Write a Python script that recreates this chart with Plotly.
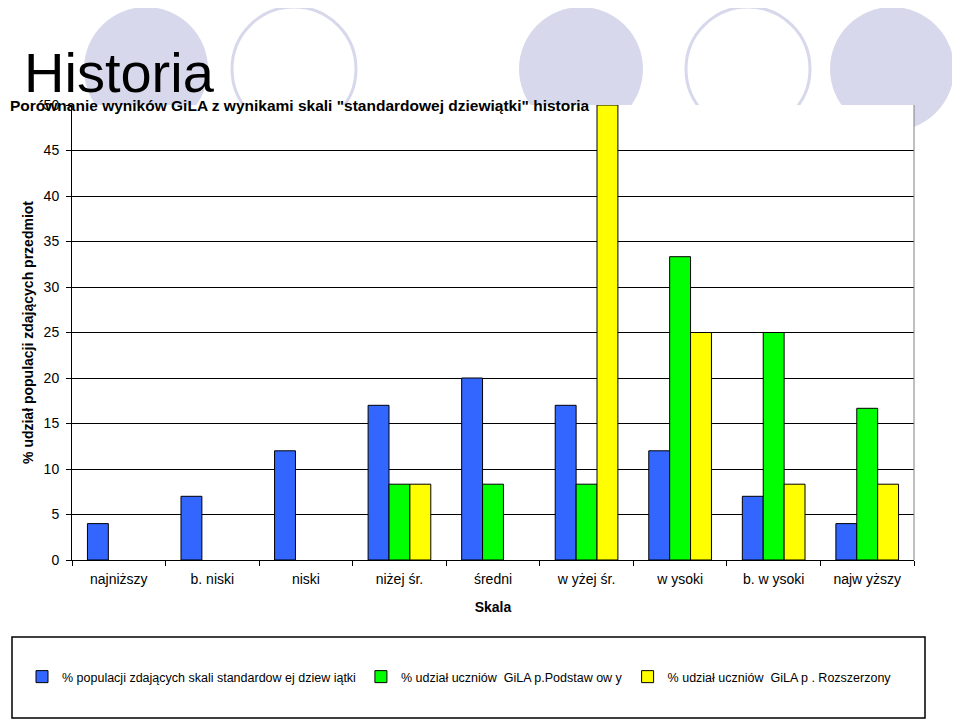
import plotly.graph_objects as go

# dane
kategorie = ["najniższy", "b. niski", "niski", "niżej śr.", "średni",
             "w yżej śr.", "w ysoki", "b. w ysoki", "najw yższy"]
standard = [4, 7, 12, 17, 20, 17, 12, 7, 4]
gila_podstawowy = [None, None, None, 8.33, 8.33, 8.33, 33.33, 25, 16.67]
gila_rozszerzony = [None, None, None, 8.33, None, 50, 25, 8.33, 8.33]

nazwy = ["% populacji zdających skali standardow ej dziew iątki",
         "% udział uczniów  GiLA p.Podstaw ow y",
         "% udział uczniów  GiLA p . Rozszerzony"]
kolory = ["#3366ff", "#00ff00", "#ffff00"]

# strona ma margines 8px, wiec wykres jest mniejszy o 8px
OFF = 8
W, H = 960 - OFF, 721 - OFF
L, R, T, B = 72 - OFF, 46, 105 - OFF, 161
PW, PH = W - L - R, H - T - B
FONT = "Liberation Sans, Arial, sans-serif"


def px(x):
    # x strony -> wspolrzedna paper
    return (x - OFF - L) / PW


def py(y):
    return (H - B - (y - OFF)) / PH


fig = go.Figure()
for nazwa, wartosci, kolor in zip(nazwy, [standard, gila_podstawowy, gila_rozszerzony], kolory):
    fig.add_trace(go.Bar(x=kategorie, y=wartosci, name=nazwa,
                         marker=dict(color=kolor, line=dict(color="black", width=1))))

# ozdobne kola w tle
ksztalty = []
for cx, pelne in [(146, True), (294, False), (581, True), (748, False), (892, True)]:
    r = 62
    ksztalty.append(dict(type="circle", xref="paper", yref="paper", layer="below",
                         x0=px(cx - r), x1=px(cx + r), y0=py(69 + r), y1=py(69 - r),
                         fillcolor="#d8d8ec" if pelne else "rgba(0,0,0,0)",
                         line=dict(color="#d8d8ec", width=0 if pelne else 3)))
# biale tlo obszaru wykresu nad kolami
ksztalty.append(dict(type="rect", xref="paper", yref="paper", layer="below",
                     x0=0, x1=1, y0=0, y1=1, fillcolor="white", line=dict(width=0)))
# prawa ramka
ksztalty.append(dict(type="line", xref="paper", yref="paper", x0=1, x1=1, y0=0, y1=1,
                     line=dict(color="#808080", width=1)))
# ramka legendy
ksztalty.append(dict(type="rect", xref="paper", yref="paper",
                     x0=px(12), x1=px(925), y0=py(718), y1=py(637),
                     line=dict(color="black", width=1.5)))

fig.update_layout(
    width=W, height=H,
    margin=dict(l=L, r=R, t=T, b=B),
    paper_bgcolor="white", plot_bgcolor="white",
    font=dict(family=FONT, size=14, color="black"),
    barmode="group", bargap=0.33, bargroupgap=0,
    shapes=ksztalty,
    showlegend=True,
    legend=dict(orientation="h", x=px(22), xanchor="left", y=py(677), yanchor="middle",
                font=dict(size=12.5), itemwidth=30, traceorder="normal",
                bgcolor="rgba(0,0,0,0)"),
    annotations=[
        dict(text="Historia", xref="paper", yref="paper", x=px(22), y=py(72),
             xanchor="left", yanchor="middle", showarrow=False,
             font=dict(size=56, family=FONT)),
        dict(text="<b>Porównanie wyników GiLA z wynikami skali \"standardowej dziewiątki\" historia</b>",
             xref="paper", yref="paper", x=px(OFF), y=py(105), xanchor="left", yanchor="middle",
             showarrow=False, font=dict(size=15.5, family=FONT)),
    ],
    hovermode=False,
)
fig.update_xaxes(showline=True, linecolor="black", linewidth=1,
                 ticks="outside", tickson="boundaries", ticklen=5, tickcolor="black",
                 ticklabelstandoff=6,
                 title=dict(text="<b>Skala</b>", font=dict(size=14), standoff=16))
fig.update_yaxes(range=[0, 50], dtick=5, showline=True, linecolor="black", linewidth=1,
                 showgrid=True, gridcolor="black", gridwidth=1, zeroline=False,
                 ticks="outside", ticklen=5, tickcolor="black", ticklabelstandoff=4,
                 title=dict(text="<b>% udział populacji zdających przedmiot</b>", font=dict(size=14),
                            standoff=6))

fig.write_html("out.html")
